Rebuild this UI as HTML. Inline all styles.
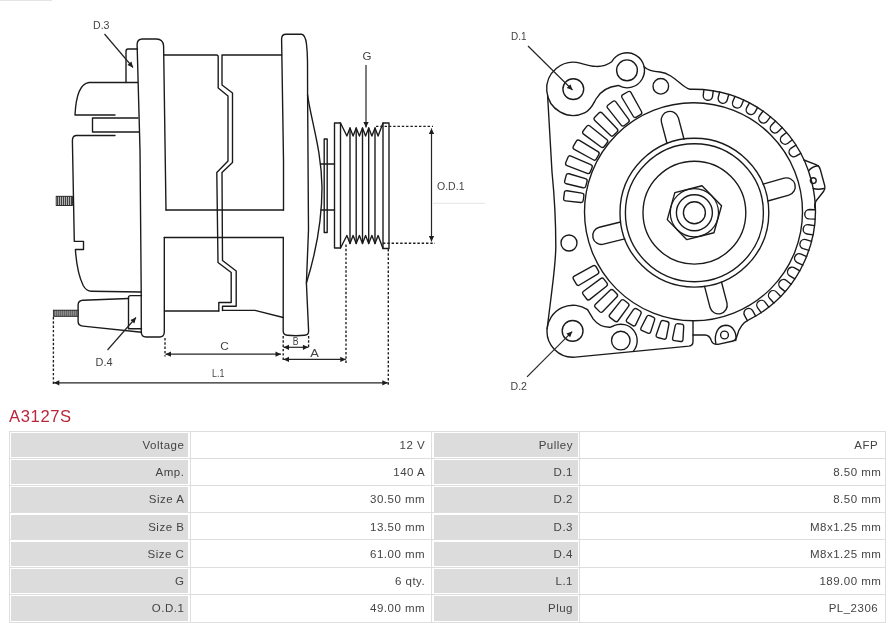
<!DOCTYPE html>
<html><head><meta charset="utf-8"><title>A3127S</title>
<style>
html,body{margin:0;padding:0;background:#fff}
body{width:889px;height:623px;position:relative;overflow:hidden;font-family:"Liberation Sans",sans-serif}
.ttl{position:absolute;left:9px;top:406.6px;font-size:16.6px;line-height:20px;color:#b9263b;letter-spacing:0.62px;white-space:nowrap}
.c{position:absolute;box-sizing:border-box;text-align:right;font-size:11.5px;letter-spacing:0.5px;color:#444;white-space:nowrap;overflow:hidden}
.g{background:#dcdcdc}
.hl{position:absolute;left:9px;width:877px;height:1px;background:#dedede}
.vl{position:absolute;top:431px;width:1px;height:191px;background:#dedede}
</style></head><body><div id="w" style="position:absolute;left:0;top:0;width:889px;height:623px;will-change:transform">
<svg width="889" height="400" viewBox="0 0 889 400" style="position:absolute;left:0;top:0">
<g fill="none" stroke="#1a1a1a" stroke-width="1.38" stroke-linejoin="round" stroke-linecap="round">
<path d="M137.5,82.5 L89,82.5 C81,83.5 76,94 75,115 L115,115"/>
<path d="M138,118 L92.5,118 L92.5,132 L139,132"/>
<path d="M115,135.5 L76,135.5 Q72.3,136 72.4,141 L74.3,241.4 L83.5,241.4 L83.5,249.5 L75.4,249.5 C76.2,262 78.6,276 83.2,285.5 Q86.2,291.2 91.5,291.3 L141,292"/>
<path d="M137.5,49 L128,49 Q126,49 126,51.5 L126,82.5"/>
<path d="M164.3,237.5 L164.3,332 Q164.3,337 159.5,337 L146,337 Q141.3,337 141.3,332 L141.2,290 L140,150 L137.1,44.5 Q137.2,39 142.5,39 L156.5,39 Q163,39 163.6,46 L166,210"/>
<path d="M128.5,298.5 L83,300.3 Q78.1,300.6 78.1,305 L78.1,321.5 Q78.1,325.6 83,326.1 L141.5,332.3"/>
<path d="M141.5,295.6 L130.5,295.6 Q128.5,295.6 128.5,297.6 L128.5,328.4"/>
<path d="M128.5,328.7 L141.5,328.7"/>
<path d="M164.3,55 L216.5,55 Q218.2,55 218.2,57 L218.2,88 L228,96 L228,161 L216.8,172.5 L218,262.5 L231.2,272.5 L231.2,302.5 L218.8,302.5 L218.8,311"/>
<path d="M281.6,55 L222,55 L222,85 L232.5,93 L232.5,162.5 L222,172.5 L222.5,260.5 L236.2,271 L236.2,306.2 L222.5,306.2 L222.5,310.6"/>
<path d="M166,210 L283.5,210"/>
<path d="M164.3,237.5 L283.4,237.5"/>
<path d="M164.5,311 L218.8,311"/>
<path d="M222.5,310.4 L255,310.4 L283.2,317.5"/>
<path d="M283.5,210 L283.5,160 L281.6,39 Q281.7,34.2 286,34.2 L301.5,34.2 Q305.3,34.6 306.5,44 Q307.4,52 307.5,61 L307.6,94.7 L308.5,230 L306.4,283 L308.6,331 Q308.7,335 304.5,335.3 Q296,336.2 287.3,335.3 Q283.2,335 283.2,331 L283.3,237.5"/>
<path d="M307.5,94.7 C311,120 321.5,150 322,187 C322,225 313,262 306.4,283"/>
<path d="M324.2,139 L327.2,139 L327.2,232.5 L324.2,232.5 Z"/>
<path d="M320.5,164 L334.5,164 M321,210 L334.5,210"/>
<path d="M334.5,248 L334.5,123 L340.5,123 L346.9,136 L350,128 L353.1,136 L356.2,128 L359.4,136 L362.5,128 L365.6,136 L368.7,128 L371.9,136 L375,128 L378.1,136 L383,123 L389,123 L389,248.5 L383,248.5 L378.1,235.5 L375,243.5 L371.9,235.5 L368.7,243.5 L365.6,235.5 L362.5,243.5 L359.4,235.5 L356.2,243.5 L353.1,235.5 L350,243.5 L346.9,235.5 L340.5,248 Z"/>
<path d="M350,128 L350,243.5"/>
<path d="M356.2,128 L356.2,243.5"/>
<path d="M362.5,128 L362.5,243.5"/>
<path d="M368.7,128 L368.7,243.5"/>
<path d="M375,128 L375,243.5"/>
<path d="M340.5,123 L340.5,248 M383,123 L383,248.5"/>
<path d="M721.53,205.78 L713.96,232.74 L686.82,239.66 L667.27,219.62 L674.84,192.66 L701.98,185.74 Z"/>
<path d="M667.07,143.5 L661.48,122.36 A8.75,8.75 0 0 1 678.4,117.89 L683.99,139.03"/>
<path d="M763.11,184.16 L784.15,178.21 A8.75,8.75 0 0 1 788.91,195.05 L767.87,201"/>
<path d="M721.49,281.99 L727,303.15 A8.75,8.75 0 0 1 710.07,307.56 L704.56,286.4"/>
<path d="M624.78,238.94 L603.56,244.2 A8.75,8.75 0 0 1 599.35,227.21 L620.58,221.96"/>
<path d="M703.93,89.57 L703.23,95.13 A4.7,4.7 0 0 0 712.55,96.31 L713.25,90.75"/>
<path d="M719.65,91.99 L718.23,97.4 A4.7,4.7 0 0 0 727.33,99.78 L728.74,94.37"/>
<path d="M734.92,96.42 L732.81,101.61 A4.7,4.7 0 0 0 741.52,105.15 L743.63,99.97"/>
<path d="M749.49,102.81 L746.73,107.68 A4.7,4.7 0 0 0 754.9,112.32 L757.67,107.45"/>
<path d="M763.11,111.04 L759.73,115.5 A4.7,4.7 0 0 0 767.23,121.17 L770.61,116.7"/>
<path d="M775.54,120.96 L771.61,124.95 A4.7,4.7 0 0 0 778.31,131.55 L782.24,127.56"/>
<path d="M786.57,132.42 L782.16,135.86 A4.7,4.7 0 0 0 787.94,143.27 L792.36,139.83"/>
<path d="M796.02,145.21 L791.2,148.06 A4.7,4.7 0 0 0 795.97,156.15 L800.79,153.31"/>
<path d="M815.38,209.7 L809.38,209.54 A4.7,4.7 0 0 0 809.14,218.93 L815.14,219.09"/>
<path d="M814.53,225.64 L808.61,224.7 A4.7,4.7 0 0 0 807.14,233.99 L813.06,234.93"/>
<path d="M811.61,241.34 L805.86,239.64 A4.7,4.7 0 0 0 803.19,248.65 L808.94,250.36"/>
<path d="M806.66,256.53 L801.18,254.09 A4.7,4.7 0 0 0 797.36,262.68 L802.84,265.12"/>
<path d="M799.78,270.94 L794.66,267.8 A4.7,4.7 0 0 0 789.75,275.82 L794.87,278.95"/>
<path d="M791.07,284.32 L786.41,280.55 A4.7,4.7 0 0 0 780.49,287.85 L785.15,291.63"/>
<path d="M780.69,296.46 L776.56,292.11 A4.7,4.7 0 0 0 769.74,298.58 L773.87,302.93"/>
<path d="M768.81,307.14 L765.29,302.28 A4.7,4.7 0 0 0 757.68,307.81 L761.21,312.66"/>
<path d="M755.64,316.17 L752.78,310.9 A4.7,4.7 0 0 0 744.52,315.39 L747.38,320.66"/>
<path d="M636.42,117.08 Q634.43,118.23 633.24,116.26 L622.08,97.76 Q620.9,95.79 622.89,94.64 L627.91,91.74 Q629.9,90.59 631.02,92.6 L641.46,111.51 Q642.57,113.53 640.58,114.68 Z"/>
<path d="M624.44,125.46 Q622.61,126.86 621.18,125.07 L607.7,108.18 Q606.27,106.38 608.09,104.98 L612.69,101.45 Q614.52,100.05 615.88,101.9 L628.7,119.29 Q630.07,121.14 628.24,122.54 Z"/>
<path d="M613.65,135.34 Q612.02,136.97 610.36,135.37 L594.8,120.39 Q593.14,118.8 594.77,117.17 L598.87,113.07 Q600.5,111.44 602.09,113.1 L617.07,128.66 Q618.67,130.32 617.04,131.95 Z"/>
<path d="M604.24,146.54 Q602.84,148.37 600.99,147 L583.6,134.18 Q581.75,132.82 583.15,130.99 L586.68,126.39 Q588.08,124.57 589.88,126 L606.77,139.48 Q608.56,140.91 607.16,142.74 Z"/>
<path d="M596.38,158.88 Q595.23,160.87 593.21,159.76 L574.3,149.32 Q572.29,148.2 573.44,146.21 L576.34,141.19 Q577.49,139.2 579.46,140.38 L597.96,151.54 Q599.93,152.73 598.78,154.72 Z"/>
<path d="M590.19,172.13 Q589.31,174.26 587.17,173.42 L567.06,165.53 Q564.91,164.69 565.79,162.57 L568.01,157.21 Q568.89,155.09 571,156.01 L590.8,164.65 Q592.91,165.57 592.03,167.7 Z"/>
<path d="M585.79,186.08 Q585.19,188.3 582.96,187.76 L566.34,183.71 Q564.1,183.17 564.7,180.95 L566.2,175.35 Q566.79,173.12 569,173.77 L585.42,178.58 Q587.63,179.22 587.03,181.45 Z"/>
<path d="M583.24,200.49 Q582.94,202.77 580.66,202.52 L565.63,200.93 Q563.35,200.69 563.65,198.41 L564.4,192.66 Q564.7,190.38 566.98,190.74 L581.9,193.09 Q584.17,193.45 583.87,195.73 Z"/>
<path d="M598.43,270.88 Q599.58,272.87 597.61,274.06 L579.46,285.01 Q577.49,286.2 576.34,284.21 L573.44,279.19 Q572.29,277.2 574.3,276.09 L592.87,265.84 Q594.88,264.73 596.03,266.72 Z"/>
<path d="M606.85,282.91 Q608.25,284.73 606.45,286.17 L589.88,299.4 Q588.08,300.83 586.68,299.01 L583.15,294.41 Q581.75,292.58 583.6,291.22 L600.67,278.64 Q602.52,277.27 603.92,279.1 Z"/>
<path d="M616.76,293.73 Q618.39,295.36 616.79,297.02 L602.8,311.59 Q601.2,313.25 599.58,311.62 L595.48,307.52 Q593.85,305.9 595.51,304.3 L610.08,290.31 Q611.74,288.71 613.37,290.34 Z"/>
<path d="M628,303.18 Q629.83,304.58 628.47,306.43 L618.01,320.72 Q616.65,322.57 614.82,321.17 L610.22,317.64 Q608.4,316.24 609.84,314.45 L620.93,300.65 Q622.37,298.85 624.19,300.25 Z"/>
<path d="M639.86,310.77 Q641.85,311.92 640.86,314 L635.81,324.61 Q634.83,326.68 632.83,325.53 L627.47,322.43 Q625.47,321.28 626.78,319.39 L633.44,309.71 Q634.75,307.82 636.74,308.97 Z"/>
<path d="M653.13,317.05 Q655.25,317.93 654.54,320.11 L650.74,331.76 Q650.02,333.95 647.9,333.07 L642.17,330.69 Q640.04,329.81 641.09,327.76 L646.63,316.84 Q647.68,314.79 649.8,315.67 Z"/>
<path d="M667.1,321.54 Q669.32,322.14 668.89,324.4 L666.4,337.41 Q665.97,339.67 663.75,339.07 L657.76,337.47 Q655.54,336.87 656.29,334.7 L660.64,322.19 Q661.4,320.02 663.62,320.61 Z"/>
<path d="M681.54,324.18 Q683.82,324.48 683.69,326.77 L682.98,339.5 Q682.85,341.8 680.57,341.5 L674.42,340.69 Q672.14,340.39 672.61,338.14 L675.22,325.66 Q675.69,323.4 677.97,323.71 Z"/>
<path d="M584.54,112.91 A26.6,26.6 0 1 1 580.18,63.11 C590,66 601,69.5 611.75,61.71 A17.5,17.5 0 1 1 618.25,85.46 C608,86.5 600,92 596,99 C593,104.5 591,110 584.54,112.91 Z"/>
<path d="M644.12,66.66 C648,70.5 654,71.5 660,72 C668,73 674,78 680,83 C684,86.5 688,88.8 690.11,89.24 A122,122 0 0 1 748.69,319.9 C742,323 738.5,330 737,336 Q736,340.5 732,341.3 L718,344.3 Q713,344.8 711.5,341 Q709.5,335 705,335 L693,335"/>
<path d="M715.8,343.5 C714,334 718,325.5 725.5,325.3 C733,325.3 737,333 735.8,340.5"/>
<path d="M803.9,160 L816,164.6 Q819.5,166 820.3,169.5 L824.8,186 Q825.4,189 823.5,191.5 L816,201 Q814.3,203.5 814.8,208"/>
<path d="M808.6,170.8 Q812,166.5 818.3,165.8 M813.3,188.5 Q818,190 824,188.5"/>
<path d="M693,321 L693,341.5 Q693,345.6 689,346.1 L575.27,357.1 A26,26 0 0 1 547.14,328.48 L550.6,301 C553,281 555.8,262 555.8,246 C555.8,222 554.3,195 552,172 L547.61,95.68"/>
<path d="M587.54,309.65 L593.3,319.2 C597,324 603,327.5 610,327.3 L613.87,325.74 A16.4,16.4 0 0 1 633.36,351.14"/>
<path d="M547.14,328.48 A26,26 0 0 1 587.54,309.65"/>
<circle cx="694.4" cy="212.7" r="11"/>
<circle cx="694.4" cy="212.7" r="18"/>
<circle cx="694.4" cy="212.7" r="24.1" stroke-width="1.2"/>
<circle cx="694.4" cy="212.7" r="51.4"/>
<circle cx="694.4" cy="212.7" r="69"/>
<circle cx="694.4" cy="212.7" r="74.4"/>
<circle cx="693.5" cy="211.8" r="109"/>
<circle cx="573.3" cy="89.1" r="10.4"/>
<circle cx="572.6" cy="330.9" r="10.4"/>
<circle cx="627" cy="70.3" r="10.4"/>
<circle cx="660.8" cy="86.3" r="7.8"/>
<circle cx="569" cy="243" r="8"/>
<circle cx="620.8" cy="340.6" r="9.3"/>
<circle cx="724.5" cy="335" r="3.9"/>
<circle cx="813.3" cy="180.6" r="2.9"/>
</g>
<rect x="56.2" y="196.3" width="16.2" height="9.2" fill="#d4d4d4" stroke="#222" stroke-width="0.9"/><path d="M57.7,196.3 L57.7,205.5 M59.7,196.3 L59.7,205.5 M61.7,196.3 L61.7,205.5 M63.7,196.3 L63.7,205.5 M65.7,196.3 L65.7,205.5 M67.7,196.3 L67.7,205.5 M69.7,196.3 L69.7,205.5 M71.7,196.3 L71.7,205.5 " stroke="#161616" stroke-width="0.95" fill="none"/>
<rect x="53.4" y="310.2" width="24.6" height="6.1" fill="#d4d4d4" stroke="#222" stroke-width="0.9"/><path d="M54.9,310.2 L54.9,316.3 M56.9,310.2 L56.9,316.3 M58.9,310.2 L58.9,316.3 M60.9,310.2 L60.9,316.3 M62.9,310.2 L62.9,316.3 M64.9,310.2 L64.9,316.3 M66.9,310.2 L66.9,316.3 M68.9,310.2 L68.9,316.3 M70.9,310.2 L70.9,316.3 M72.9,310.2 L72.9,316.3 M74.9,310.2 L74.9,316.3 M76.9,310.2 L76.9,316.3 " stroke="#161616" stroke-width="0.95" fill="none"/>
<g fill="none" stroke="#252525" stroke-width="1.2">
<path d="M165.5,354.2 L281,354.2"/>
<path d="M283.5,347.3 L308.4,347.3"/>
<path d="M283.5,359.4 L345.8,359.4"/>
<path d="M53.8,382.8 L387.8,382.8"/>
<path d="M431.5,128.5 L431.5,241.5"/>
<path d="M366,65 L366,127.5"/>
<path d="M104.5,34 L133,67.5"/>
<path d="M107.5,350 L136,317.5"/>
<path d="M528,46 L572.5,90"/>
<path d="M527,376.8 L572.2,331.6"/>
</g>
<path d="M53.4,317 L53.4,384.5 M165,338 L165,356.5 M283.2,336 L283.2,361.5 M308.6,336 L308.6,348.5 M346,244.5 L346,363 M388.3,249 L388.3,385 M376,126.3 L433,126.3 M383,243.2 L435,243.2" fill="none" stroke="#1c1c1c" stroke-width="1.35" stroke-dasharray="2.4 1.9"/>
<path d="M281,354.2 L275.5,351.55 L275.5,356.85 Z M165.5,354.2 L171,356.85 L171,351.55 Z M308.4,347.3 L302.9,344.65 L302.9,349.95 Z M283.5,347.3 L289,349.95 L289,344.65 Z M345.8,359.4 L340.3,356.75 L340.3,362.05 Z M283.5,359.4 L289,362.05 L289,356.75 Z M387.8,382.8 L382.3,380.15 L382.3,385.45 Z M53.8,382.8 L59.3,385.45 L59.3,380.15 Z M431.5,241.5 L434.15,236 L428.85,236 Z M431.5,128.5 L428.85,134 L434.15,134 Z M366,127.5 L368.65,122 L363.35,122 Z M133,67.5 L131.45,61.59 L127.42,65.03 Z M136,317.5 L130.38,319.89 L134.37,323.38 Z M572.5,90 L570.45,84.25 L566.73,88.02 Z M572.2,331.6 L566.44,333.62 L570.18,337.36 Z" fill="#1d1d1d" stroke="none"/>
<path d="M433,203.3 L485,203.3 M0,0.5 L52,0.5" stroke="#e4e4e4" stroke-width="1" fill="none"/>
<g font-family="Liberation Sans, sans-serif" font-size="11.7" fill="#424242">
<text x="93" y="29" textLength="16.5" lengthAdjust="spacingAndGlyphs">D.3</text>
<text x="95.5" y="365.7" textLength="17" lengthAdjust="spacingAndGlyphs">D.4</text>
<text x="362.6" y="60" textLength="9" lengthAdjust="spacingAndGlyphs">G</text>
<text x="437" y="189.6" textLength="27.5" lengthAdjust="spacingAndGlyphs">O.D.1</text>
<text x="220.2" y="350" textLength="8.5" lengthAdjust="spacingAndGlyphs">C</text>
<text x="292.8" y="344.8" textLength="5.8" lengthAdjust="spacingAndGlyphs">B</text>
<text x="310.3" y="357.1" textLength="8.6" lengthAdjust="spacingAndGlyphs">A</text>
<text x="212" y="376.8" textLength="12.3" lengthAdjust="spacingAndGlyphs">L.1</text>
<text x="511" y="39.6" textLength="15.5" lengthAdjust="spacingAndGlyphs">D.1</text>
<text x="510.5" y="389.7" textLength="16.5" lengthAdjust="spacingAndGlyphs">D.2</text>
</g></svg>
<div class="ttl">A3127S</div>
<div style="position:absolute;left:9px;top:430.5px;width:877.4px;height:192.01px;border:1px solid #dedede;box-sizing:border-box"></div>
<div class="hl" style="top:457.73px"></div>
<div class="hl" style="top:484.96px"></div>
<div class="hl" style="top:512.19px"></div>
<div class="hl" style="top:539.42px"></div>
<div class="hl" style="top:566.65px"></div>
<div class="hl" style="top:593.88px"></div>
<div class="vl" style="left:190px"></div>
<div class="vl" style="left:430.8px"></div>
<div class="vl" style="left:579px"></div>
<div class="c g" style="left:11px;top:433px;width:177px;height:24.23px;line-height:24.23px;padding-right:3.6px">Voltage</div>
<div class="c" style="left:192px;top:433px;width:238px;height:24.23px;line-height:24.23px;padding-right:4.8px">12 V</div>
<div class="c g" style="left:434px;top:433px;width:143.8px;height:24.23px;line-height:24.23px;padding-right:4.8px">Pulley</div>
<div class="c" style="left:581px;top:433px;width:304px;height:24.23px;line-height:24.23px;padding-right:6.8px">AFP</div>
<div class="c g" style="left:11px;top:460.23px;width:177px;height:24.23px;line-height:24.23px;padding-right:3.6px">Amp.</div>
<div class="c" style="left:192px;top:460.23px;width:238px;height:24.23px;line-height:24.23px;padding-right:4.8px">140 A</div>
<div class="c g" style="left:434px;top:460.23px;width:143.8px;height:24.23px;line-height:24.23px;padding-right:4.8px">D.1</div>
<div class="c" style="left:581px;top:460.23px;width:304px;height:24.23px;line-height:24.23px;padding-right:3.6px">8.50 mm</div>
<div class="c g" style="left:11px;top:487.46px;width:177px;height:24.23px;line-height:24.23px;padding-right:3.6px">Size A</div>
<div class="c" style="left:192px;top:487.46px;width:238px;height:24.23px;line-height:24.23px;padding-right:4.8px">30.50 mm</div>
<div class="c g" style="left:434px;top:487.46px;width:143.8px;height:24.23px;line-height:24.23px;padding-right:4.8px">D.2</div>
<div class="c" style="left:581px;top:487.46px;width:304px;height:24.23px;line-height:24.23px;padding-right:3.6px">8.50 mm</div>
<div class="c g" style="left:11px;top:514.69px;width:177px;height:24.23px;line-height:24.23px;padding-right:3.6px">Size B</div>
<div class="c" style="left:192px;top:514.69px;width:238px;height:24.23px;line-height:24.23px;padding-right:4.8px">13.50 mm</div>
<div class="c g" style="left:434px;top:514.69px;width:143.8px;height:24.23px;line-height:24.23px;padding-right:4.8px">D.3</div>
<div class="c" style="left:581px;top:514.69px;width:304px;height:24.23px;line-height:24.23px;padding-right:3.6px">M8x1.25 mm</div>
<div class="c g" style="left:11px;top:541.92px;width:177px;height:24.23px;line-height:24.23px;padding-right:3.6px">Size C</div>
<div class="c" style="left:192px;top:541.92px;width:238px;height:24.23px;line-height:24.23px;padding-right:4.8px">61.00 mm</div>
<div class="c g" style="left:434px;top:541.92px;width:143.8px;height:24.23px;line-height:24.23px;padding-right:4.8px">D.4</div>
<div class="c" style="left:581px;top:541.92px;width:304px;height:24.23px;line-height:24.23px;padding-right:3.6px">M8x1.25 mm</div>
<div class="c g" style="left:11px;top:569.15px;width:177px;height:24.23px;line-height:24.23px;padding-right:3.6px">G</div>
<div class="c" style="left:192px;top:569.15px;width:238px;height:24.23px;line-height:24.23px;padding-right:4.8px">6 qty.</div>
<div class="c g" style="left:434px;top:569.15px;width:143.8px;height:24.23px;line-height:24.23px;padding-right:4.8px">L.1</div>
<div class="c" style="left:581px;top:569.15px;width:304px;height:24.23px;line-height:24.23px;padding-right:3.6px">189.00 mm</div>
<div class="c g" style="left:11px;top:596.38px;width:177px;height:24.23px;line-height:24.23px;padding-right:3.6px">O.D.1</div>
<div class="c" style="left:192px;top:596.38px;width:238px;height:24.23px;line-height:24.23px;padding-right:4.8px">49.00 mm</div>
<div class="c g" style="left:434px;top:596.38px;width:143.8px;height:24.23px;line-height:24.23px;padding-right:4.8px">Plug</div>
<div class="c" style="left:581px;top:596.38px;width:304px;height:24.23px;line-height:24.23px;padding-right:6.8px">PL_2306</div>
</div></body></html>
